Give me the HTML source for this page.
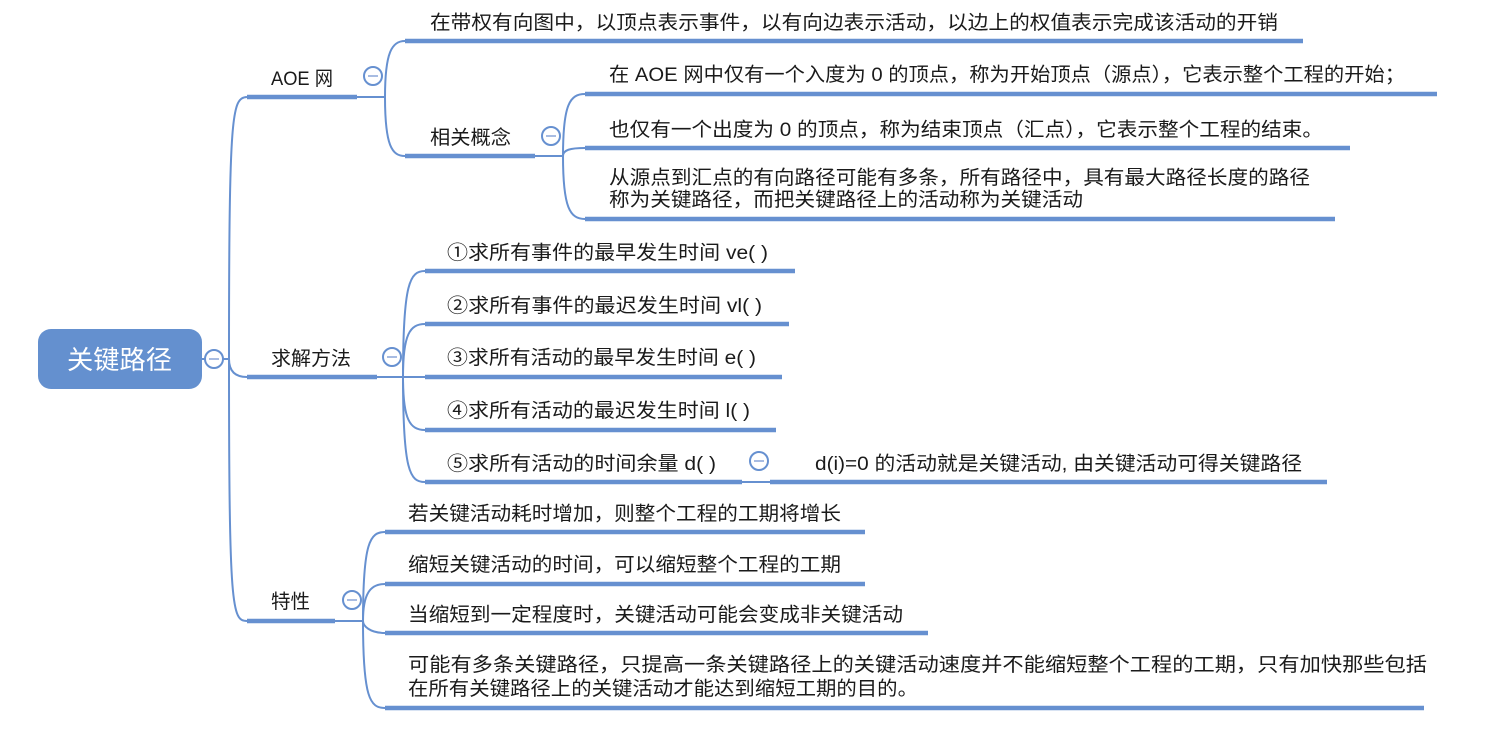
<!DOCTYPE html>
<html><head><meta charset="utf-8"><style>
html,body{margin:0;padding:0;background:#fff;}
svg{display:block}
text{font-family:"Liberation Sans","Noto Sans CJK SC",sans-serif;fill:#1a1a1a;font-size:19.5px;}
</style></head><body>
<svg width="1505" height="729" viewBox="0 0 1505 729" xmlns="http://www.w3.org/2000/svg">
<g fill="none" stroke="#6690d0" stroke-width="2">
<path d="M202,359 L229,359"/>
<path d="M229,359 C229,110 232,98 247,97"/>
<path d="M229,359 C229,372 236,377 247,377"/>
<path d="M229,359 C229,610 232,621 247,621"/>
<path d="M357,97 L385,97"/>
<path d="M385,97 C385,52 392,41 405,41"/>
<path d="M385,97 C385,146 392,156 405,156"/>
<path d="M535,156 L563,156"/>
<path d="M563,156 C563,104 570,94 585,94"/>
<path d="M563,156 C563,150 570,148 585,148"/>
<path d="M563,156 C563,208 570,219 585,219"/>
<path d="M377,377 L403,377"/>
<path d="M403,377 C403,282 410,271 425,271"/>
<path d="M403,377 C403,334 410,324 425,324"/>
<path d="M403,377 L425,377"/>
<path d="M403,377 C403,420 410,430 425,430"/>
<path d="M403,377 C403,472 410,482 425,482"/>
<path d="M742,482 L770,482"/>
<path d="M335,621 L363,621"/>
<path d="M363,621 C363,542 370,532 385,532"/>
<path d="M363,621 C363,594 370,584 385,584"/>
<path d="M363,621 C363,626 370,633 385,633"/>
<path d="M363,621 C363,698 370,708 385,708"/>
</g>
<g stroke="#6690d0" stroke-width="4.5">
<line x1="247" y1="97" x2="357" y2="97"/>
<line x1="247" y1="377" x2="377" y2="377"/>
<line x1="247" y1="621" x2="335" y2="621"/>
<line x1="405" y1="41" x2="1303" y2="41"/>
<line x1="405" y1="156" x2="535" y2="156"/>
<line x1="585" y1="94" x2="1437" y2="94"/>
<line x1="585" y1="148" x2="1350" y2="148"/>
<line x1="585" y1="219" x2="1335" y2="219"/>
<line x1="425" y1="271" x2="795" y2="271"/>
<line x1="425" y1="324" x2="789" y2="324"/>
<line x1="425" y1="377" x2="782" y2="377"/>
<line x1="425" y1="430" x2="776" y2="430"/>
<line x1="425" y1="482" x2="742" y2="482"/>
<line x1="770" y1="482" x2="1327" y2="482"/>
<line x1="385" y1="532" x2="865" y2="532"/>
<line x1="385" y1="584" x2="865" y2="584"/>
<line x1="385" y1="633" x2="928" y2="633"/>
<line x1="385" y1="708" x2="1424" y2="708"/>
</g>
<rect x="38" y="329" width="164" height="60" rx="13" fill="#6490cf"/>
<text x="67" y="369" textLength="105" lengthAdjust="spacingAndGlyphs" style="fill:#fff;font-size:26px">关键路径</text>
<g fill="#fff" stroke="#6690d0" stroke-width="2">
<circle cx="214" cy="359" r="9"/><circle cx="373" cy="76" r="9"/><circle cx="392" cy="357" r="9"/>
<circle cx="352" cy="600" r="9"/><circle cx="551" cy="136" r="9"/><circle cx="759" cy="461" r="9"/>
</g>
<g stroke="#8aa6d8" stroke-width="1.5">
<line x1="209" y1="359" x2="219" y2="359"/><line x1="368" y1="76" x2="378" y2="76"/>
<line x1="387" y1="357" x2="397" y2="357"/><line x1="347" y1="600" x2="357" y2="600"/>
<line x1="546" y1="136" x2="556" y2="136"/><line x1="754" y1="461" x2="764" y2="461"/>
</g>
<g style="font-size:20px" lengthAdjust="spacingAndGlyphs">
<text x="271" y="85" textLength="62" lengthAdjust="spacingAndGlyphs">AOE 网</text>
<text x="271" y="365" textLength="80" lengthAdjust="spacingAndGlyphs">求解方法</text>
<text x="271" y="608" textLength="39" lengthAdjust="spacingAndGlyphs">特性</text>
<text x="430" y="29" textLength="848" lengthAdjust="spacingAndGlyphs">在带权有向图中，以顶点表示事件，以有向边表示活动，以边上的权值表示完成该活动的开销</text>
<text x="430" y="144" textLength="81" lengthAdjust="spacingAndGlyphs">相关概念</text>
<text x="609" y="81" textLength="796" lengthAdjust="spacingAndGlyphs">在 AOE 网中仅有一个入度为 0 的顶点，称为开始顶点（源点），它表示整个工程的开始；</text>
<text x="609" y="136" textLength="714" lengthAdjust="spacingAndGlyphs">也仅有一个出度为 0 的顶点，称为结束顶点（汇点），它表示整个工程的结束。</text>
<text x="609" y="184" textLength="701" lengthAdjust="spacingAndGlyphs">从源点到汇点的有向路径可能有多条，所有路径中，具有最大路径长度的路径</text>
<text x="609" y="206" textLength="474" lengthAdjust="spacingAndGlyphs">称为关键路径，而把关键路径上的活动称为关键活动</text>
<text x="447" y="259" textLength="321" lengthAdjust="spacingAndGlyphs">①求所有事件的最早发生时间 ve( )</text>
<text x="447" y="312" textLength="315" lengthAdjust="spacingAndGlyphs">②求所有事件的最迟发生时间 vl( )</text>
<text x="447" y="364" textLength="309" lengthAdjust="spacingAndGlyphs">③求所有活动的最早发生时间 e( )</text>
<text x="447" y="417" textLength="303" lengthAdjust="spacingAndGlyphs">④求所有活动的最迟发生时间 l( )</text>
<text x="447" y="470" textLength="269" lengthAdjust="spacingAndGlyphs">⑤求所有活动的时间余量 d( )</text>
<text x="815" y="470" textLength="487" lengthAdjust="spacingAndGlyphs">d(i)=0 的活动就是关键活动, 由关键活动可得关键路径</text>
<text x="408" y="520" textLength="433" lengthAdjust="spacingAndGlyphs">若关键活动耗时增加，则整个工程的工期将增长</text>
<text x="408" y="571" textLength="433" lengthAdjust="spacingAndGlyphs">缩短关键活动的时间，可以缩短整个工程的工期</text>
<text x="408" y="621" textLength="495" lengthAdjust="spacingAndGlyphs">当缩短到一定程度时，关键活动可能会变成非关键活动</text>
<text x="408" y="671" textLength="1019" lengthAdjust="spacingAndGlyphs">可能有多条关键路径，只提高一条关键路径上的关键活动速度并不能缩短整个工程的工期，只有加快那些包括</text>
<text x="408" y="695" textLength="510" lengthAdjust="spacingAndGlyphs">在所有关键路径上的关键活动才能达到缩短工期的目的。</text>
</g>
</svg>
</body></html>
